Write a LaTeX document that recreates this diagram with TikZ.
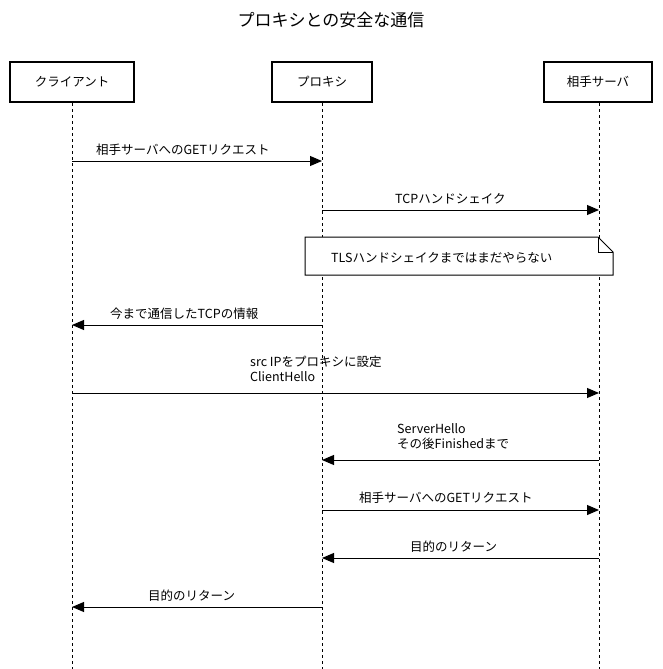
\documentclass[tikz,border=0pt]{standalone}
\usepackage{fontspec}
\setmainfont{Noto Sans CJK JP}
\usetikzlibrary{arrows.meta, positioning}

\tikzset{
  actor/.style={draw, line width=2pt, minimum height=40pt, font=\fontsize{12.5}{15}\selectfont},
  life/.style={dashed, line width=1pt},
  msg/.style={line width=1pt, -{Triangle[length=12pt,width=10pt]}},
  lbl/.style={font=\fontsize{12.5}{15}\selectfont, inner sep=0pt, anchor=base west, align=left}
}

\begin{document}
\begin{tikzpicture}[x=1pt, y=-1pt]
  \useasboundingbox (0,0) rectangle (663,669);

  % title
  \node[font=\fontsize{17}{20}\selectfont] (title) at (331,20) {プロキシとの安全な通信};

  % participants
  \node[actor, minimum width=124pt] (client) at (72,82) {クライアント};
  \node[actor, minimum width=100pt] (proxy) at (322,82) {プロキシ};
  \node[actor, minimum width=108pt] (server) at (598,82) {相手サーバ};

  % lifelines
  \coordinate (cEnd) at (72,669);
  \coordinate (pEnd) at (322,669);
  \coordinate (sEnd) at (599,669);
  \draw[life] (client.south) -- (cEnd);
  \draw[life] (proxy.south) -- (pEnd);
  \draw[life] (599,103) -- (sEnd);

  % messages
  \coordinate (c1) at (72,161); \coordinate (p1) at (322,161);
  \draw[msg] (c1) -- (p1);
  \node[lbl] at (96,154) {相手サーバへのGETリクエスト};

  \coordinate (p2) at (322,210); \coordinate (s2) at (599,210);
  \draw[msg] (p2) -- (s2);
  \node[lbl] at (395,203) {TCPハンドシェイク};

  % note
  \draw[line width=1pt, fill=white] (305,237) -- (598,237) -- (613,252) -- (613,275) -- (305,275) -- cycle;
  \draw[line width=1pt] (598,237) -- (598,252) -- (613,252);
  \node[lbl] (note) at (331,262) {TLSハンドシェイクまではまだやらない};

  \coordinate (p4) at (322,325); \coordinate (c4) at (72,325);
  \draw[msg] (p4) -- (c4);
  \node[lbl] at (110,318) {今まで通信したTCPの情報};

  \coordinate (c5) at (72,393); \coordinate (s5) at (599,393);
  \draw[msg] (c5) -- (s5);
  \node[lbl, anchor=north west] at (250,356) {src IPをプロキシに設定\\ClientHello};

  \coordinate (s6) at (599,460); \coordinate (p6) at (322,460);
  \draw[msg] (s6) -- (p6);
  \node[lbl, anchor=north west] at (397,423) {ServerHello\\その後Finishedまで};

  \coordinate (p7) at (322,510); \coordinate (s7) at (599,510);
  \draw[msg] (p7) -- (s7);
  \node[lbl] at (359,502) {相手サーバへのGETリクエスト};

  \coordinate (s8) at (599,558); \coordinate (p8) at (322,558);
  \draw[msg] (s8) -- (p8);
  \node[lbl] at (410,551) {目的のリターン};

  \coordinate (p9) at (322,607); \coordinate (c9) at (72,607);
  \draw[msg] (p9) -- (c9);
  \node[lbl] at (148,600) {目的のリターン};
\end{tikzpicture}
\end{document}
